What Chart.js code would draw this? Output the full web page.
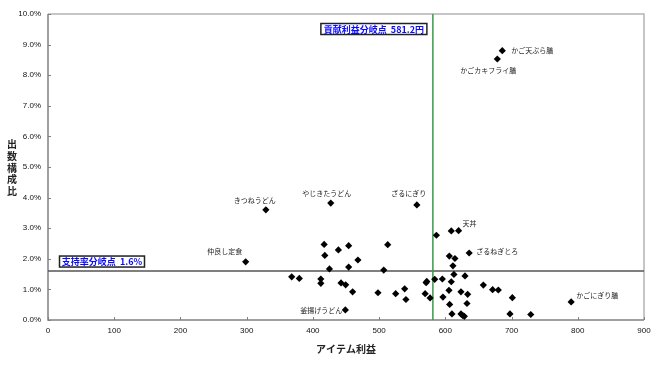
<!DOCTYPE html>
<html><head><meta charset="utf-8">
<script src="https://cdn.jsdelivr.net/npm/chart.js@4"></script>
<style>html,body{margin:0;padding:0;background:#fff}#wrap{width:660px;height:370px;position:relative}</style>
</head><body><div id="wrap"><canvas id="c"></canvas></div>
<script>
// ---- data ----
const itemNames = ['仲良し定食','きつねうどん','やじきたうどん','ざるにぎり','かご天ぷら膳','かごカキフライ膳','天丼','ざるねぎとろ','釜揚げうどん','かごにぎり膳',
  '','','','','','','','','','','','','','','','','','','','','','','','','','','','','','','','','','','','','','','','','','','','','','','','',''];
const itemProfit = [298.5,329,427,557,686,678.5,620,636,449,790,
  368,379.5,412,412,417,418,425,438.5,442.5,449.5,454,454,460,468,498.3,507,513,525,538.6,540.5,
  571,572,569.5,577,586.5,584,595.5,606,614.5,611.5,613,609,629.7,609,657.4,671.4,680,605.5,623.6,633.7,
  596.4,606.5,632.7,701.2,610,623.6,626.1,628.7,697.6,729];
const shareRatio = [1.90,3.60,3.82,3.76,8.80,8.53,2.92,2.19,0.33,0.59,
  1.41,1.36,1.34,1.20,2.47,2.11,1.67,2.29,1.21,1.15,2.43,1.73,0.92,1.96,0.89,1.63,2.46,0.86,1.02,0.67,
  1.22,1.26,0.86,0.72,2.77,1.33,1.34,2.09,2.01,1.77,1.49,2.91,1.44,1.25,1.14,0.99,0.98,0.97,0.92,0.84,
  0.75,0.51,0.54,0.73,0.20,0.20,0.15,0.12,0.20,0.18];
const xTickValues = [0,100,200,300,400,500,600,700,800,900];
const yTickValues = [0,1,2,3,4,5,6,7,8,9,10];
const profitBreakEven = 581.2;
const shareBreakEven = 1.6;
const xTitle = 'アイテム利益';
const yTitle = '出数構成比';
const profitBoxText = '貢献利益分岐点  581.2円';
const shareBoxText = '支持率分岐点  1.6%';

// ---- styling / placement ----
const labelPlacement = {
  '仲良し定食':[-21,-11,'center'],
  'きつねうどん':[-11,-9,'center'],
  'やじきたうどん':[-4,-10,'center'],
  'ざるにぎり':[-8,-12,'center'],
  'かご天ぷら膳':[9,0,'left'],
  'かごカキフライ膳':[-9,11,'center'],
  '天丼':[4,-7,'left'],
  'ざるねぎとろ':[7,-2,'left'],
  '釜揚げうどん':[-3,0,'right'],
  'かごにぎり膳':[5,-7,'left']
};
const JP = '"Noto Sans CJK JP","Noto Sans",sans-serif';

const points = itemProfit.map((x,i)=>({x:x,y:shareRatio[i]}));

const decor = {
  id:'decor',
  beforeDatasetsDraw(chart){
    const {ctx, chartArea:a} = chart;
    ctx.save();
    ctx.lineWidth = 1.5;
    ctx.strokeStyle = '#b4b4b4';
    ctx.beginPath();
    ctx.moveTo(a.left, a.top); ctx.lineTo(a.right, a.top); ctx.lineTo(a.right, a.bottom);
    ctx.stroke();
    ctx.strokeStyle = '#808080';
    ctx.beginPath();
    ctx.moveTo(a.left, a.top); ctx.lineTo(a.left, a.bottom); ctx.lineTo(a.right, a.bottom);
    ctx.stroke();
    ctx.lineWidth = 1;
    const xs = chart.scales.x, ys = chart.scales.y;
    xTickValues.forEach(v=>{const p=Math.round(xs.getPixelForValue(v))+0.5;ctx.beginPath();ctx.moveTo(p,a.bottom);ctx.lineTo(p,a.bottom-3);ctx.stroke();});
    yTickValues.forEach(v=>{const p=Math.round(ys.getPixelForValue(v))+0.5;ctx.beginPath();ctx.moveTo(a.left,p);ctx.lineTo(a.left+3,p);ctx.stroke();});
    ctx.restore();
  },
  afterDatasetsDraw(chart){
    const {ctx, chartArea:a} = chart;
    const xs = chart.scales.x, ys = chart.scales.y;
    ctx.save();
    // point labels
    ctx.font = '7px ' + JP;
    ctx.fillStyle = '#222';
    ctx.textBaseline = 'middle';
    const meta = chart.getDatasetMeta(0);
    itemNames.forEach((n,i)=>{
      if(!n) return;
      const el = meta.data[i];
      const pl = labelPlacement[n] || [5,-7,'left'];
      ctx.textAlign = pl[2];
      ctx.fillText(n, el.x + pl[0], el.y + pl[1]);
    });
    // boxes
    ctx.font = 'bold 9px ' + JP;
    function box(text, x, y, w, h){
      ctx.fillStyle = '#fff';
      ctx.fillRect(x, y, w, h);
      ctx.strokeStyle = '#222';
      ctx.lineWidth = 1.5;
      ctx.strokeRect(x, y, w, h);
      ctx.fillStyle = '#0a0aff';
      ctx.textAlign = 'center';
      ctx.textBaseline = 'middle';
      ctx.fillText(text, x + w/2, y + h/2 + 0.5);
    }
    const gx = xs.getPixelForValue(profitBreakEven);
    box(profitBoxText, gx - 112, a.top + 9.5, 106, 11);
    const hy = ys.getPixelForValue(shareBreakEven);
    box(shareBoxText, a.left + 11.5, hy - 15, 85, 11);
    // y title stacked
    ctx.font = 'bold 10px ' + JP;
    ctx.fillStyle = '#222';
    ctx.textAlign = 'center';
    const chars = Array.from(yTitle);
    const mid = (a.top + a.bottom)/2 + 1;
    chars.forEach((c,i)=>{ ctx.fillText(c, 12, mid + (i - (chars.length-1)/2)*11.7); });
    ctx.restore();
  }
};

new Chart(document.getElementById('c'), {
  type:'scatter',
  data:{datasets:[
    {data:points, pointStyle:'rectRot', pointRadius:3.6, pointHoverRadius:3.6, backgroundColor:'#000', borderColor:'#000', borderWidth:0},
    {data:[{x:profitBreakEven,y:0},{x:profitBreakEven,y:10}], showLine:true, pointRadius:0, borderColor:'#3a9a4a', borderWidth:1.5},
    {data:[{x:0,y:shareBreakEven},{x:900,y:shareBreakEven}], showLine:true, pointRadius:0, borderColor:'#555', borderWidth:1.5}
  ]},
  options:{
    responsive:true, maintainAspectRatio:false, animation:false,
    layout:{padding:{top:14,right:16,bottom:14,left:0}},
    plugins:{legend:{display:false}, tooltip:{enabled:false}},
    scales:{
      x:{type:'linear', min:0, max:900,
        afterBuildTicks(s){ s.ticks = xTickValues.map(v=>({value:v})); },
        afterFit(s){ s.height = 36; },
        grid:{display:false, drawTicks:false}, border:{display:false},
        ticks:{padding:6, color:'#111', font:{family:'"Liberation Sans",Arial,sans-serif', size:8}, callback:v=>String(v)},
        title:{display:true, text:xTitle, color:'#222', font:{family:JP, size:10, weight:'bold'}, padding:{top:0,bottom:1}}
      },
      y:{type:'linear', min:0, max:10,
        afterBuildTicks(s){ s.ticks = yTickValues.map(v=>({value:v})); },
        afterFit(s){ s.width = 48; },
        grid:{display:false, drawTicks:false}, border:{display:false},
        ticks:{padding:7, color:'#111', font:{family:'"Liberation Sans",Arial,sans-serif', size:8}, callback:v=>v.toFixed(1)+'%'}
      }
    }
  },
  plugins:[decor]
});
</script>
</body></html>
